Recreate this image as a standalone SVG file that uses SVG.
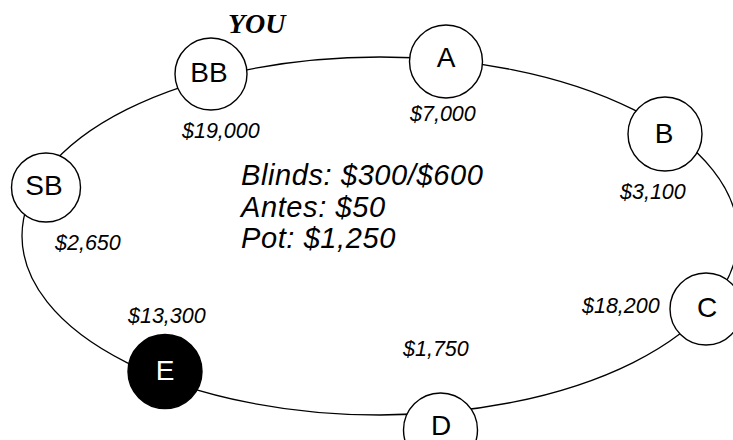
<svg xmlns="http://www.w3.org/2000/svg" width="733" height="440" viewBox="0 0 733 440">
<style>
.seat{fill:#fff;stroke:#000;stroke-width:1.4}
.dark{fill:#000;stroke:#000;stroke-width:1.4}
.lbl{font-family:"Liberation Sans",Arial,sans-serif;font-size:28px;text-anchor:middle;fill:#000}
.amt{font-family:"Liberation Sans",Arial,sans-serif;font-size:21.5px;font-style:italic;fill:#000}
.info{font-family:"Liberation Sans",Arial,sans-serif;font-size:29px;font-style:italic;letter-spacing:0.6px;fill:#000}
.you{font-family:"Liberation Serif","Times New Roman",serif;font-size:28px;font-weight:bold;font-style:italic;fill:#000}
.table{fill:none;stroke:#000;stroke-width:1.3}
</style>
<rect width="733" height="440" fill="#fff"/>
<g id="connectors">
<ellipse class="table" cx="380" cy="236" rx="358" ry="179"/>
</g>
<g id="node-BB">
<circle class="seat" cx="211" cy="74" r="36"/>
<text class="lbl" x="209" y="82">BB</text>
<text class="you" x="228" y="33">YOU</text>
<text class="amt" x="182" y="138">$19,000</text>
</g>
<g id="node-A">
<circle class="seat" cx="446" cy="61.5" r="36.5"/>
<text class="lbl" x="446" y="67">A</text>
<text class="amt" x="410" y="121">$7,000</text>
</g>
<g id="node-B">
<circle class="seat" cx="665" cy="134" r="37"/>
<text class="lbl" x="664" y="143">B</text>
<text class="amt" x="620" y="199">$3,100</text>
</g>
<g id="node-C">
<circle class="seat" cx="706" cy="309" r="36"/>
<text class="lbl" x="707" y="317">C</text>
<text class="amt" x="582" y="313">$18,200</text>
</g>
<g id="node-D">
<circle class="seat" cx="440.5" cy="430" r="37"/>
<text class="lbl" x="441" y="435">D</text>
<text class="amt" x="403" y="356">$1,750</text>
</g>
<g id="node-E">
<circle class="dark" cx="165" cy="371.5" r="37"/>
<text class="lbl" x="165" y="380" style="fill:#fff">E</text>
<text class="amt" x="128" y="323">$13,300</text>
</g>
<g id="node-SB">
<circle class="seat" cx="46" cy="187.5" r="34.5"/>
<text class="lbl" x="44" y="195">SB</text>
<text class="amt" x="55" y="250">$2,650</text>
</g>
<g id="info">
<text class="info" x="241" y="185">Blinds: $300/$600</text>
<text class="info" x="241" y="217">Antes: $50</text>
<text class="info" x="241" y="248">Pot: $1,250</text>
</g>
</svg>
